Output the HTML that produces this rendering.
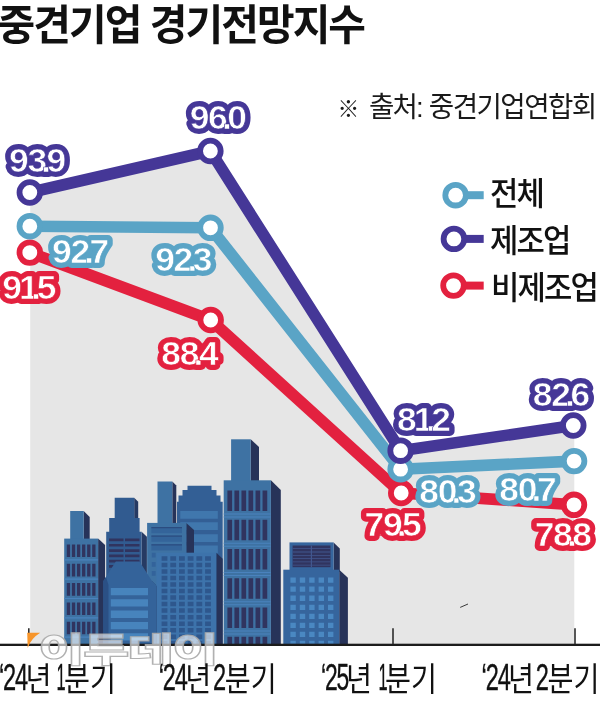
<!DOCTYPE html>
<html lang="ko">
<head>
<meta charset="utf-8">
<title>중견기업 경기전망지수</title>
<style>
html,body{margin:0;padding:0;background:#fff;}
body{width:600px;height:708px;overflow:hidden;font-family:"Liberation Sans","Noto Sans CJK KR",sans-serif;}
svg{display:block;}
text{font-family:"Liberation Sans","Noto Sans CJK KR",sans-serif;}
#labels text{font-family:"Liberation Sans",sans-serif;font-weight:700;font-size:34px;stroke-linejoin:round;stroke-linecap:round;letter-spacing:-1.2px;}
.p{stroke:#453797;} .b{stroke:#5aa4c6;} .r{stroke:#e3213f;}
.dg{font-family:"Liberation Sans",sans-serif;font-size:36.3px;font-weight:400;letter-spacing:-1.75px;fill:#111;stroke:#111;stroke-width:0.4px;}
.hg{font-size:33.5px;font-weight:400;fill:#111;}
</style>
</head>
<body>
<svg width="600" height="708" viewBox="0 0 600 708">
<rect width="600" height="708" fill="#fff"/>

<!-- title -->
<text transform="translate(-2.5,40) scale(0.975,1)" font-size="42" font-weight="700" letter-spacing="-2" fill="#111">중견기업 경기전망지수</text>

<!-- source -->
<text transform="translate(337.5,117.3) scale(0.97,1)" font-size="28.5" font-weight="400" letter-spacing="-2" fill="#1a1a1a" dx="0 6 0 0 0 0 1.5 .35 .35 .35 .35 .35 .35"><tspan font-size="22.5">※</tspan> 출처: 중견기업연합회</text>

<!-- gray area under top line -->
<polygon points="30.2,192 210.4,151 400.6,450.7 574.3,425.5 574.3,644 30.2,644" fill="#e6e6e6"/>

<!-- skyline illustration -->
<g id="bldg">
<path d="M177 644V501.8h1.5V495.4h4V490h5V485.8h24V490h5v5.4h4v6.4h2.2V644z" fill="#335f95"/>
<path d="M180.3 511h37.5v7.8h-37.5zM180.3 522.3h37.5v7.8h-37.5zM180.3 534.3h37.5v7.8h-37.5zM180.3 545.5h37.5v7.8h-37.5z" fill="#4077ad"/>
<path d="M141.6 531.8l5.3 5V644h-5.3z" fill="#263a63"/>
<path d="M134.2 497.7l4 4V520h-4z" fill="#263a63"/>
<path d="M106.2 644V531.8h3V518h5.5V497.7h19.5V518h5.4v13.8h2V644z" fill="#315b90"/>
<path d="M109 538.6h14.5v2.7h-14.5zM125 538.6h14.5v2.7h-14.5zM109 543.9h14.5v2.7h-14.5zM125 543.9h14.5v2.7h-14.5zM109 549.2h14.5v2.7h-14.5zM125 549.2h14.5v2.7h-14.5zM109 554.5h14.5v2.7h-14.5zM125 554.5h14.5v2.7h-14.5zM109 559.8h14.5v2.7h-14.5zM125 559.8h14.5v2.7h-14.5zM109 565.1h14.5v2.7h-14.5zM125 565.1h14.5v2.7h-14.5z" fill="#30345f"/>
<path d="M83.7 511l6 6V540h-6z" fill="#273359"/>
<rect x="70.2" y="511" width="13.5" height="30" fill="#3e72a3"/>
<path d="M98.1 538.6l7 6.5V644h-7z" fill="#273359"/>
<rect x="64.2" y="538.6" width="33.9" height="105.4" fill="#3e72a3"/>
<path d="M66.8 544.5h3.3v12.6h-3.3zM71.88 544.5h3.3v12.6h-3.3zM76.96 544.5h3.3v12.6h-3.3zM82.04 544.5h3.3v12.6h-3.3zM87.12 544.5h3.3v12.6h-3.3zM92.2 544.5h3.3v12.6h-3.3zM66.8 563.8h3.3v12.6h-3.3zM71.88 563.8h3.3v12.6h-3.3zM76.96 563.8h3.3v12.6h-3.3zM82.04 563.8h3.3v12.6h-3.3zM87.12 563.8h3.3v12.6h-3.3zM92.2 563.8h3.3v12.6h-3.3zM66.8 583.1h3.3v12.6h-3.3zM71.88 583.1h3.3v12.6h-3.3zM76.96 583.1h3.3v12.6h-3.3zM82.04 583.1h3.3v12.6h-3.3zM87.12 583.1h3.3v12.6h-3.3zM92.2 583.1h3.3v12.6h-3.3zM66.8 602.4h3.3v12.6h-3.3zM71.88 602.4h3.3v12.6h-3.3zM76.96 602.4h3.3v12.6h-3.3zM82.04 602.4h3.3v12.6h-3.3zM87.12 602.4h3.3v12.6h-3.3zM92.2 602.4h3.3v12.6h-3.3zM66.8 621.7h3.3v12.6h-3.3zM71.88 621.7h3.3v12.6h-3.3zM76.96 621.7h3.3v12.6h-3.3zM82.04 621.7h3.3v12.6h-3.3zM87.12 621.7h3.3v12.6h-3.3zM92.2 621.7h3.3v12.6h-3.3z" fill="#30345f"/>
<path d="M64.2 559.3h33.9v1.2h-33.9zM64.2 578.6h33.9v1.2h-33.9zM64.2 597.9h33.9v1.2h-33.9zM64.2 617.2h33.9v1.2h-33.9zM64.2 636.5h33.9v1.2h-33.9z" fill="#4a82bd"/>
<path d="M172.3 481.5l4 4V524h-4z" fill="#273359"/>
<rect x="157.5" y="481.5" width="14.8" height="43" fill="#3e72a3"/>
<path d="M186.3 522.9l7.7 7V644h-7.7z" fill="#273359"/>
<rect x="147.1" y="522.9" width="39.2" height="121.1" fill="#3e72a3"/>
<path d="M151.4 527h30.6v6.3h-30.6zM151.4 535.5h30.6v6.3h-30.6zM151.4 544.2h30.6v6.3h-30.6z" fill="#34649a"/>
<path d="M151.4 527h30.6v1.2h-30.6zM151.4 535.5h30.6v1.2h-30.6zM151.4 544.2h30.6v1.2h-30.6z" fill="#2b4c80"/>
<path d="M151.8 552.8h3.8v4.8h-3.8zM151.8 562h3.8v4.8h-3.8zM151.8 571h3.8v4.8h-3.8z" fill="#33639b"/>
<path d="M152 581l4 4 3 4V644h-7z" fill="#294675"/>
<path d="M103.4 644V581l12.4-19.5h23.7l12.5 19.5 4 4V644z" fill="#34639a"/>
<path d="M103.4 644V581l2.6-4 2.5 8V644z" fill="#2b5085"/>
<path d="M110.8 588h37.2v7.3h-37.2zM110.8 599.3h37.2v7.3h-37.2zM110.8 610.6h37.2v7.3h-37.2zM110.8 621.9h37.2v7.3h-37.2zM110.8 633.2h37.2v7.3h-37.2z" fill="#4784bd"/>
<path d="M216.3 552.7l6.4 6V644h-6.4z" fill="#273359"/>
<rect x="156.5" y="552.7" width="59.8" height="91.3" fill="#3d73ab"/>
<path d="M161.6 556.2h5.8v4.5h-5.8zM170.3 556.2h5.8v4.5h-5.8zM179 556.2h5.8v4.5h-5.8zM187.7 556.2h5.8v4.5h-5.8zM196.4 556.2h5.8v4.5h-5.8zM205.1 556.2h5.8v4.5h-5.8zM161.6 562.72h5.8v4.5h-5.8zM170.3 562.72h5.8v4.5h-5.8zM179 562.72h5.8v4.5h-5.8zM187.7 562.72h5.8v4.5h-5.8zM196.4 562.72h5.8v4.5h-5.8zM205.1 562.72h5.8v4.5h-5.8zM161.6 569.24h5.8v4.5h-5.8zM170.3 569.24h5.8v4.5h-5.8zM179 569.24h5.8v4.5h-5.8zM187.7 569.24h5.8v4.5h-5.8zM196.4 569.24h5.8v4.5h-5.8zM205.1 569.24h5.8v4.5h-5.8zM161.6 575.76h5.8v4.5h-5.8zM170.3 575.76h5.8v4.5h-5.8zM179 575.76h5.8v4.5h-5.8zM187.7 575.76h5.8v4.5h-5.8zM196.4 575.76h5.8v4.5h-5.8zM205.1 575.76h5.8v4.5h-5.8zM161.6 582.28h5.8v4.5h-5.8zM170.3 582.28h5.8v4.5h-5.8zM179 582.28h5.8v4.5h-5.8zM187.7 582.28h5.8v4.5h-5.8zM196.4 582.28h5.8v4.5h-5.8zM205.1 582.28h5.8v4.5h-5.8zM161.6 588.8h5.8v4.5h-5.8zM170.3 588.8h5.8v4.5h-5.8zM179 588.8h5.8v4.5h-5.8zM187.7 588.8h5.8v4.5h-5.8zM196.4 588.8h5.8v4.5h-5.8zM205.1 588.8h5.8v4.5h-5.8zM161.6 595.32h5.8v4.5h-5.8zM170.3 595.32h5.8v4.5h-5.8zM179 595.32h5.8v4.5h-5.8zM187.7 595.32h5.8v4.5h-5.8zM196.4 595.32h5.8v4.5h-5.8zM205.1 595.32h5.8v4.5h-5.8zM161.6 601.84h5.8v4.5h-5.8zM170.3 601.84h5.8v4.5h-5.8zM179 601.84h5.8v4.5h-5.8zM187.7 601.84h5.8v4.5h-5.8zM196.4 601.84h5.8v4.5h-5.8zM205.1 601.84h5.8v4.5h-5.8zM161.6 608.36h5.8v4.5h-5.8zM170.3 608.36h5.8v4.5h-5.8zM179 608.36h5.8v4.5h-5.8zM187.7 608.36h5.8v4.5h-5.8zM196.4 608.36h5.8v4.5h-5.8zM205.1 608.36h5.8v4.5h-5.8zM161.6 614.88h5.8v4.5h-5.8zM170.3 614.88h5.8v4.5h-5.8zM179 614.88h5.8v4.5h-5.8zM187.7 614.88h5.8v4.5h-5.8zM196.4 614.88h5.8v4.5h-5.8zM205.1 614.88h5.8v4.5h-5.8zM161.6 621.4h5.8v4.5h-5.8zM170.3 621.4h5.8v4.5h-5.8zM179 621.4h5.8v4.5h-5.8zM187.7 621.4h5.8v4.5h-5.8zM196.4 621.4h5.8v4.5h-5.8zM205.1 621.4h5.8v4.5h-5.8zM161.6 627.92h5.8v4.5h-5.8zM170.3 627.92h5.8v4.5h-5.8zM179 627.92h5.8v4.5h-5.8zM187.7 627.92h5.8v4.5h-5.8zM196.4 627.92h5.8v4.5h-5.8zM205.1 627.92h5.8v4.5h-5.8zM161.6 634.44h5.8v4.5h-5.8zM170.3 634.44h5.8v4.5h-5.8zM179 634.44h5.8v4.5h-5.8zM187.7 634.44h5.8v4.5h-5.8zM196.4 634.44h5.8v4.5h-5.8zM205.1 634.44h5.8v4.5h-5.8zM161.6 640.96h5.8v3h-5.8zM170.3 640.96h5.8v3h-5.8zM179 640.96h5.8v3h-5.8zM187.7 640.96h5.8v3h-5.8zM196.4 640.96h5.8v3h-5.8zM205.1 640.96h5.8v3h-5.8z" fill="#2e578d"/>
<path d="M250.7 439.3l8.3 7.7V482h-8.3z" fill="#273359"/>
<rect x="231.1" y="439.3" width="19.6" height="42" fill="#3e72a3"/>
<path d="M270.9 480.3l9.9 9.7V644h-9.9z" fill="#273359"/>
<rect x="223.7" y="480.3" width="47.2" height="163.7" fill="#3e72a3"/>
<path d="M227.4 490.5h4.7v20.5h-4.7zM234.43 490.5h4.7v20.5h-4.7zM241.46 490.5h4.7v20.5h-4.7zM248.49 490.5h4.7v20.5h-4.7zM255.52 490.5h4.7v20.5h-4.7zM262.55 490.5h4.7v20.5h-4.7zM227.4 519.75h4.7v20.5h-4.7zM234.43 519.75h4.7v20.5h-4.7zM241.46 519.75h4.7v20.5h-4.7zM248.49 519.75h4.7v20.5h-4.7zM255.52 519.75h4.7v20.5h-4.7zM262.55 519.75h4.7v20.5h-4.7zM227.4 549h4.7v20.5h-4.7zM234.43 549h4.7v20.5h-4.7zM241.46 549h4.7v20.5h-4.7zM248.49 549h4.7v20.5h-4.7zM255.52 549h4.7v20.5h-4.7zM262.55 549h4.7v20.5h-4.7zM227.4 578.25h4.7v20.5h-4.7zM234.43 578.25h4.7v20.5h-4.7zM241.46 578.25h4.7v20.5h-4.7zM248.49 578.25h4.7v20.5h-4.7zM255.52 578.25h4.7v20.5h-4.7zM262.55 578.25h4.7v20.5h-4.7zM227.4 607.5h4.7v20.5h-4.7zM234.43 607.5h4.7v20.5h-4.7zM241.46 607.5h4.7v20.5h-4.7zM248.49 607.5h4.7v20.5h-4.7zM255.52 607.5h4.7v20.5h-4.7zM262.55 607.5h4.7v20.5h-4.7zM227.4 636.8h4.7v7.2h-4.7zM234.43 636.8h4.7v7.2h-4.7zM241.46 636.8h4.7v7.2h-4.7zM248.49 636.8h4.7v7.2h-4.7zM255.52 636.8h4.7v7.2h-4.7zM262.55 636.8h4.7v7.2h-4.7z" fill="#30345f"/>
<path d="M223.7 513.6h47.2v1h-47.2zM223.7 516.6h47.2v1h-47.2zM223.7 542.85h47.2v1h-47.2zM223.7 545.85h47.2v1h-47.2zM223.7 572.1h47.2v1h-47.2zM223.7 575.1h47.2v1h-47.2zM223.7 601.35h47.2v1h-47.2zM223.7 604.35h47.2v1h-47.2zM223.7 630.6h47.2v1h-47.2zM223.7 633.6h47.2v1h-47.2z" fill="#4a82bd"/>
<path d="M333.6 542.4l6.2 6V572h-6.2z" fill="#273359"/>
<rect x="289.5" y="542.4" width="44.1" height="28" fill="#36659d"/>
<rect x="292.6" y="545.5" width="37.9" height="21.7" fill="#30345f"/>
<path d="M292.6 548.3h37.9v0.8h-37.9zM292.6 551.6h37.9v0.8h-37.9zM292.6 554.9h37.9v0.8h-37.9zM292.6 558.2h37.9v0.8h-37.9zM292.6 561.5h37.9v0.8h-37.9zM292.6 564.8h37.9v0.8h-37.9zM310.8 545.5h1.2v21.7h-1.2z" fill="#41568e"/>
<path d="M339.2 569.7l8.7 8V644h-8.7z" fill="#273359"/>
<rect x="283.3" y="569.7" width="55.9" height="74.3" fill="#36659d"/>
<path d="M290.4 577.5h5.4v5.3h-5.4zM299.8 577.5h5.4v5.3h-5.4zM309.2 577.5h5.4v5.3h-5.4zM318.6 577.5h5.4v5.3h-5.4zM328 577.5h5.4v5.3h-5.4zM290.4 586.55h5.4v5.3h-5.4zM299.8 586.55h5.4v5.3h-5.4zM309.2 586.55h5.4v5.3h-5.4zM318.6 586.55h5.4v5.3h-5.4zM328 586.55h5.4v5.3h-5.4zM290.4 595.6h5.4v5.3h-5.4zM299.8 595.6h5.4v5.3h-5.4zM309.2 595.6h5.4v5.3h-5.4zM318.6 595.6h5.4v5.3h-5.4zM328 595.6h5.4v5.3h-5.4zM290.4 604.65h5.4v5.3h-5.4zM299.8 604.65h5.4v5.3h-5.4zM309.2 604.65h5.4v5.3h-5.4zM318.6 604.65h5.4v5.3h-5.4zM328 604.65h5.4v5.3h-5.4zM290.4 613.7h5.4v5.3h-5.4zM299.8 613.7h5.4v5.3h-5.4zM309.2 613.7h5.4v5.3h-5.4zM318.6 613.7h5.4v5.3h-5.4zM328 613.7h5.4v5.3h-5.4zM290.4 622.75h5.4v5.3h-5.4zM299.8 622.75h5.4v5.3h-5.4zM309.2 622.75h5.4v5.3h-5.4zM318.6 622.75h5.4v5.3h-5.4zM328 622.75h5.4v5.3h-5.4zM290.4 631.8h5.4v5.3h-5.4zM299.8 631.8h5.4v5.3h-5.4zM309.2 631.8h5.4v5.3h-5.4zM318.6 631.8h5.4v5.3h-5.4zM328 631.8h5.4v5.3h-5.4zM290.4 640.85h5.4v3h-5.4zM299.8 640.85h5.4v3h-5.4zM309.2 640.85h5.4v3h-5.4zM318.6 640.85h5.4v3h-5.4zM328 640.85h5.4v3h-5.4z" fill="#4a88c2"/>
</g>
<path d="M460.2 607.4l7.8-3.4" stroke="#3a3a3a" stroke-width="1" fill="none"/>

<!-- axis -->
<rect x="0" y="643.7" width="600" height="2.3" fill="#1c1c1c"/>
<path d="M28.8 628.3V644M393 628.3V644M575 628.3V644" stroke="#2e2e2e" stroke-width="1.6" fill="none"/>
<path d="M27.2 632.8H40.2Q30.8 638.6 27.7 648z" fill="#f7952a"/>

<!-- watermark -->
<text transform="translate(38.5,662) scale(1.475,1)" font-size="34" font-weight="900" fill="#fff" fill-opacity="0.62" stroke="#a9a9a9" stroke-opacity="0.9" stroke-width="1.1" letter-spacing="-1">이투데이</text>

<!-- series lines -->
<g fill="none" stroke-width="11.6" stroke-linejoin="round" stroke-linecap="round">
<polyline stroke="#e3213f" points="29.8,252.6 210.7,320 401.2,493 574,504.8"/>
<polyline stroke="#5aa4c6" points="29.8,226.2 210.5,227.8 400.6,469.2 574.1,461.1"/>
<polyline stroke="#453797" points="29.8,192.5 210.4,151 400.6,450.7 573.3,425.5"/>
</g>
<g fill="#fff" stroke-width="5.8">
<g stroke="#e3213f"><circle cx="29.8" cy="252.6" r="10.3"/><circle cx="210.7" cy="320" r="10.3"/><circle cx="401.2" cy="493" r="10.3"/><circle cx="574" cy="504.8" r="10.3"/></g>
<g stroke="#5aa4c6"><circle cx="29.8" cy="226.2" r="10.3"/><circle cx="210.5" cy="227.8" r="10.3"/><circle cx="400.6" cy="469.2" r="10.3"/><circle cx="574.1" cy="461.1" r="10.3"/></g>
<g stroke="#453797"><circle cx="29.8" cy="192.5" r="10.3"/><circle cx="210.4" cy="151" r="10.3"/><circle cx="400.6" cy="450.7" r="10.3"/><circle cx="573.3" cy="425.5" r="10.3"/></g>
</g>

<!-- value labels: thick coloured halo (use) + white digits -->
<filter id="plug" x="-10%" y="-10%" width="120%" height="120%">
<feMorphology operator="dilate" radius="4" result="d"/>
<feMorphology in="d" operator="erode" radius="4"/>
</filter>
<use href="#lp" stroke-width="4" fill="#453797" filter="url(#plug)"/>
<use href="#lr" stroke-width="4" fill="#e3213f" filter="url(#plug)"/>
<use href="#lb" stroke-width="4" fill="#5aa4c6" filter="url(#plug)"/>
<use href="#lp" stroke-width="9.8" fill="#453797"/>
<use href="#lr" stroke-width="9.8" fill="#e3213f"/>
<use href="#lb" stroke-width="9.8" fill="#5aa4c6"/>
<g id="labels" stroke-width="0.6" fill="#fff">
<g id="lp" class="p">
<text transform="translate(9,172.4) scale(1.04,1)" dx="0 0 -4.4 -3.1">93.9</text>
<text transform="translate(189.7,129.3) scale(1.04,1)" dx="0 0 -4.4 -3.1">96.0</text>
<text transform="translate(397,431) scale(1.04,1)" dx="0 -1.6 -5.9 -3.1">81.2</text>
<text transform="translate(532.8,406.3) scale(1.04,1)" dx="0 0 -4.4 -3.1">82.6</text>
</g>
<g id="lr" class="r">
<text transform="translate(2.3,299) scale(1.04,1)" dx="0 -1.6 -5.9 -3.1">91.5</text>
<text transform="translate(161.3,364.8) scale(1.04,1)" dx="0 0 -4.4 -3.1">88.4</text>
<text transform="translate(364.5,536.3) scale(1.04,1)" dx="0 0 -4.4 -3.1">79.5</text>
<text transform="translate(534.7,546.3) scale(1.04,1)" dx="0 0 -4.4 -3.1">78.8</text>
</g>
<g id="lb" class="b">
<text transform="translate(52,263.3) scale(1.04,1)" dx="0 0 -4.4 -3.1">92.7</text>
<text transform="translate(155.2,271.3) scale(1.04,1)" dx="0 0 -4.4 -3.1">92.3</text>
<text transform="translate(419.3,502.5) scale(1.04,1)" dx="0 0 -4.4 -3.1">80.3</text>
<text transform="translate(499.3,501.2) scale(1.04,1)" dx="0 0 -4.4 -3.1">80.7</text>
</g>
</g>

<!-- legend -->
<g id="legend">
<g fill="#fff" stroke-width="5.8">
<line x1="455" y1="195.2" x2="483.7" y2="195.2" stroke="#5aa4c6" stroke-width="8"/>
<circle cx="455.6" cy="195.2" r="10.3" stroke="#5aa4c6"/>
<line x1="453" y1="238.9" x2="483.7" y2="238.9" stroke="#453797" stroke-width="8"/>
<circle cx="453.9" cy="238.9" r="10.3" stroke="#453797"/>
<line x1="453" y1="285.6" x2="483.7" y2="285.6" stroke="#e3213f" stroke-width="8"/>
<circle cx="453.5" cy="285.6" r="10.3" stroke="#e3213f"/>
</g>
<g font-size="31.5" font-weight="500" letter-spacing="-1.9" fill="#111">
<text transform="translate(490,205.3) scale(0.98,1)">전체</text>
<text transform="translate(490,252) scale(0.98,1)">제조업</text>
<text transform="translate(491,298.5) scale(0.98,1)">비제조업</text>
</g>
</g>

<!-- x labels -->
<g id="xlabels">
<g transform="translate(0,691.2)"><text class="dg" transform="translate(-1,-1) scale(0.65,1)">‘24</text><text class="hg" transform="translate(25.5,0) scale(0.843,1)">년 </text><text class="dg" transform="translate(56.6,-1) scale(0.45,1)">1</text><text class="hg" transform="translate(64,0) scale(0.843,1)">분기</text></g>
<g transform="translate(159.7,691.2)"><text class="dg" transform="translate(-1,-1) scale(0.65,1)">‘24</text><text class="hg" transform="translate(25.5,0) scale(0.843,1)">년 </text><text class="dg" transform="translate(53.2,-1) scale(0.65,1)">2</text><text class="hg" transform="translate(65,0) scale(0.843,1)">분기</text></g>
<g transform="translate(322,691.2)"><text class="dg" transform="translate(-1,-1) scale(0.63,1)">‘25</text><text class="hg" transform="translate(23.9,0) scale(0.843,1)">년 </text><text class="dg" transform="translate(56.6,-1) scale(0.45,1)">1</text><text class="hg" transform="translate(63,0) scale(0.843,1)">분기</text></g>
<g transform="translate(482.6,691.2)"><text class="dg" transform="translate(-1,-1) scale(0.65,1)">‘24</text><text class="hg" transform="translate(25.5,0) scale(0.843,1)">년 </text><text class="dg" transform="translate(53.2,-1) scale(0.65,1)">2</text><text class="hg" transform="translate(65,0) scale(0.843,1)">분기</text></g>
</g>
</svg>
</body>
</html>
